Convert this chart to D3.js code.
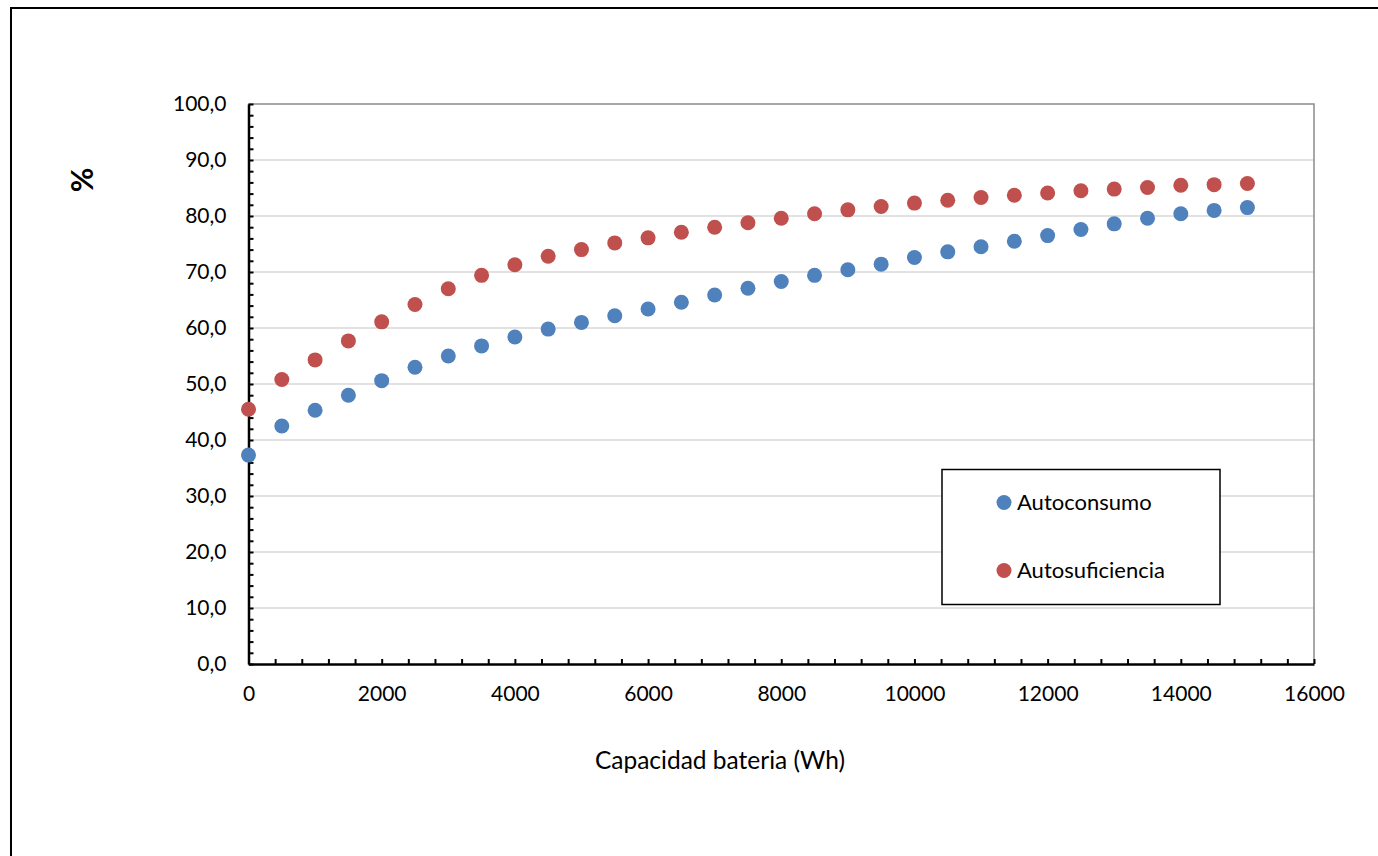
<!DOCTYPE html>
<html>
<head>
<meta charset="utf-8">
<script src="https://cdn.jsdelivr.net/npm/d3@7"></script>
<style>
  html, body { margin: 0; padding: 0; background: #fff; }
  svg { display: block; }
  text { font-family: Lato, "Open Sans", sans-serif; fill: #000; }
</style>
</head>
<body>
<svg id="chart" width="1378" height="856"></svg>
<script>
// Battery capacity (Wh) and the two resulting indicators (%)
const capacidad = [0, 500, 1000, 1500, 2000, 2500, 3000, 3500, 4000, 4500, 5000,
  5500, 6000, 6500, 7000, 7500, 8000, 8500, 9000, 9500, 10000,
  10500, 11000, 11500, 12000, 12500, 13000, 13500, 14000, 14500, 15000];
const autoconsumo = [37.3, 42.5, 45.3, 48.0, 50.6, 53.0, 55.0, 56.8, 58.4, 59.8, 61.0,
  62.2, 63.4, 64.6, 65.9, 67.1, 68.3, 69.4, 70.4, 71.4, 72.6,
  73.6, 74.5, 75.5, 76.5, 77.6, 78.6, 79.6, 80.4, 81.0, 81.5];
const autosuficiencia = [45.5, 50.8, 54.3, 57.7, 61.1, 64.2, 67.0, 69.4, 71.3, 72.8, 74.0,
  75.2, 76.1, 77.1, 78.0, 78.8, 79.6, 80.4, 81.1, 81.7, 82.3,
  82.8, 83.3, 83.7, 84.1, 84.5, 84.8, 85.1, 85.5, 85.6, 85.8];
const seriesNames = ["Autoconsumo", "Autosuficiencia"];
const seriesColors = ["#4f81bd", "#c0504d"];
const yTicks = [0, 10, 20, 30, 40, 50, 60, 70, 80, 90, 100];
const xTicks = [0, 2000, 4000, 6000, 8000, 10000, 12000, 14000, 16000];

const svg = d3.select("#chart");

// Outer chart frame
svg.append("rect")
  .attr("x", 11).attr("y", 8)
  .attr("width", 1500).attr("height", 1000)
  .attr("fill", "none").attr("stroke", "#000").attr("stroke-width", 2);

const x = d3.scaleLinear().domain([0, 16000]).range([248.5, 1314]);
const y = d3.scaleLinear().domain([0, 100]).range([664, 104]);

const es = d3.formatLocale({ decimal: ",", thousands: ".", grouping: [3], currency: ["", " €"] });
const fmtY = es.format(".1f");

// Horizontal gridlines
svg.append("g")
  .selectAll("line")
  .data(yTicks.filter(d => d > 0 && d < 100))
  .join("line")
  .attr("x1", x(0)).attr("x2", x(16000))
  .attr("y1", d => y(d)).attr("y2", d => y(d))
  .attr("stroke", "#d9d9d9").attr("stroke-width", 1.5);

// Plot area top and right borders
svg.append("path")
  .attr("d", `M${x(0)},${y(100)}H${x(16000)}V${y(0)}`)
  .attr("fill", "none").attr("stroke", "#8c8c8c").attr("stroke-width", 1.5);

// Minor ticks (inside the plot area)
svg.append("g")
  .attr("transform", `translate(${x(0)},0)`)
  .call(d3.axisRight(y).tickValues(d3.range(0, 101, 2)).tickSize(5).tickFormat(""))
  .call(g => g.select(".domain").remove())
  .call(g => g.selectAll("line").attr("stroke", "#000").attr("stroke-width", 2));

svg.append("g")
  .attr("transform", `translate(0,${y(0)})`)
  .call(d3.axisTop(x).tickValues(d3.range(0, 16001, 400)).tickSize(5).tickFormat(""))
  .call(g => g.select(".domain").remove())
  .call(g => g.selectAll("line").attr("stroke", "#000").attr("stroke-width", 2));

// Y axis
svg.append("g")
  .attr("transform", `translate(${x(0)},0)`)
  .call(d3.axisLeft(y).tickValues(yTicks).tickSize(0).tickPadding(22).tickFormat(fmtY))
  .call(g => g.select(".domain").attr("stroke", "#000").attr("stroke-width", 2.5))
  .call(g => g.selectAll("text").attr("font-size", 21).attr("font-family", "Lato, sans-serif").attr("fill", "#000"));

// X axis
svg.append("g")
  .attr("transform", `translate(0,${y(0)})`)
  .call(d3.axisBottom(x).tickValues(xTicks).tickSize(0).tickPadding(22).tickFormat(d3.format("d")))
  .call(g => g.select(".domain").attr("stroke", "#000").attr("stroke-width", 2.5))
  .call(g => g.selectAll("text").attr("font-size", 21).attr("font-family", "Lato, sans-serif").attr("fill", "#000"));

// Axis titles
svg.append("text")
  .attr("x", 720).attr("y", 769)
  .attr("text-anchor", "middle")
  .attr("font-size", 24.5)
  .text("Capacidad bateria (Wh)");

svg.append("text")
  .attr("transform", "translate(93,180) rotate(-90)")
  .attr("text-anchor", "middle")
  .attr("font-size", 30).attr("font-weight", "bold")
  .text("%");

// Data points
const seriesData = [autoconsumo, autosuficiencia];
seriesData.forEach((vals, i) => {
  svg.append("g")
    .selectAll("circle")
    .data(capacidad.map((c, j) => ({ c, v: vals[j] })))
    .join("circle")
    .attr("cx", d => x(d.c))
    .attr("cy", d => y(d.v))
    .attr("r", 7.5)
    .attr("fill", seriesColors[i]);
});

// Legend
const legend = svg.append("g");
legend.append("rect")
  .attr("x", 942).attr("y", 469.5)
  .attr("width", 278).attr("height", 135)
  .attr("fill", "#fff").attr("stroke", "#000").attr("stroke-width", 1.5);
const legendRows = [502.5, 570.5];
seriesNames.forEach((name, i) => {
  legend.append("circle")
    .attr("cx", 1004).attr("cy", legendRows[i]).attr("r", 7.5)
    .attr("fill", seriesColors[i]);
  legend.append("text")
    .attr("x", 1017).attr("y", legendRows[i])
    .attr("dy", "0.35em")
    .attr("font-size", 22)
    .text(name);
});
</script>
</body>
</html>
